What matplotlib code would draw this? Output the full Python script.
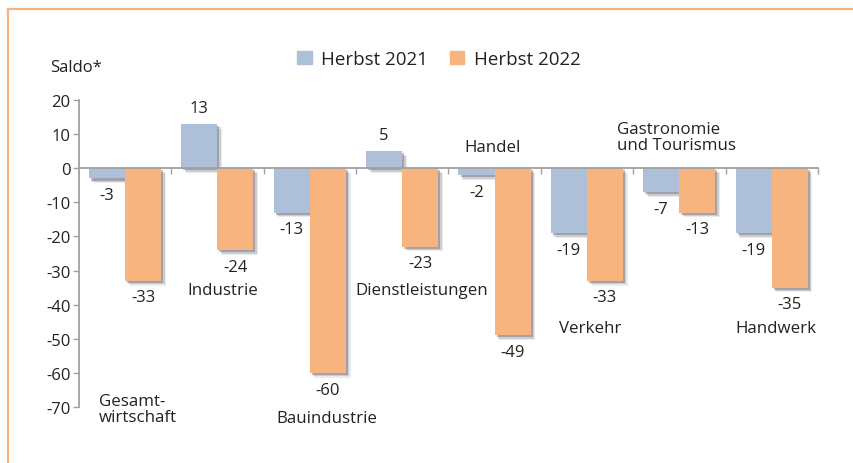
import numpy as np
import matplotlib
matplotlib.use("Agg")
import matplotlib.pyplot as plt
import matplotlib.patheffects as pe
from matplotlib.patches import Rectangle
from matplotlib.lines import Line2D

plt.rcParams['font.family'] = ['Open Sans', 'DejaVu Sans']

categories = ['Gesamt-\nwirtschaft', 'Industrie', 'Bauindustrie', 'Dienstleistungen',
              'Handel', 'Verkehr', 'Gastronomie\nund Tourismus', 'Handwerk']
herbst_2021 = [-3, 13, -13, 5, -2, -19, -7, -19]
herbst_2022 = [-33, -24, -60, -23, -49, -33, -13, -35]
series_names = ['Herbst 2021', 'Herbst 2022']
yticks = [20, 10, 0, -10, -20, -30, -40, -50, -60, -70]

# where the category names sit (x in category units, y in data units, alignment)
label_pos = [(0.215, -70.6, 'left'), (1.56, -35.8, 'center'), (2.68, -73.3, 'center'),
             (3.71, -35.8, 'center'), (4.48, 6.2, 'center'), (5.53, -46.9, 'center'),
             (5.82, 9.2, 'left'), (7.55, -46.9, 'center')]

blue = '#aebfda'
orange = '#f8b47e'
txt = '#222222'

fig = plt.figure(figsize=(8.54, 4.64), dpi=100)
ax = fig.add_axes([79/854, 1-408/464, 739/854, 307/464])

shadow = [pe.SimplePatchShadow(offset=(3.4, -3.4), shadow_rgbFace='#5e6270', alpha=0.12),
          pe.SimplePatchShadow(offset=(2.5, -2.5), shadow_rgbFace='#5e6270', alpha=0.22),
          pe.SimplePatchShadow(offset=(1.5, -1.5), shadow_rgbFace='#5e6270', alpha=0.4),
          pe.Normal()]

x = np.arange(len(categories))
w = 0.39
b1 = ax.bar(x + 0.303, herbst_2021, w, color=blue, path_effects=shadow, zorder=2)
b2 = ax.bar(x + 0.693, herbst_2022, w, color=orange, path_effects=shadow, zorder=2)

for bars in (b1, b2):
    for r in bars:
        v = r.get_height()
        s = str(int(v))
        off = 11.5 if v > 0 else -12
        ax.annotate(s, (r.get_x() + r.get_width()/2, v), xytext=(0, off),
                    textcoords='offset points', ha='center', va='center',
                    fontsize=12, color=txt)

for name, (px, py, ha) in zip(categories, label_pos):
    ax.text(px, py, name, ha=ha, va='center', fontsize=12.2, color=txt, linespacing=1.0)

ax.set_xlim(0, 8)
ax.set_ylim(-70, 20)
ax.set_yticks(yticks)
ax.set_yticklabels([str(t) for t in yticks])
ax.set_xticks(np.arange(1, 9))
ax.set_xticklabels([])

for s in ('top', 'right'):
    ax.spines[s].set_visible(False)
ax.spines['left'].set_color('#a0a0a0')
ax.spines['left'].set_linewidth(1.3)
ax.spines['bottom'].set_position(('data', 0))
ax.spines['bottom'].set_color('#a0a0a0')
ax.spines['bottom'].set_linewidth(1.3)
ax.spines['bottom'].set_zorder(3)
ax.tick_params(axis='y', length=4, width=1, color='#a0a0a0', pad=2, labelsize=12, labelcolor=txt)
ax.tick_params(axis='x', length=4, width=1, color='#a0a0a0', direction='out')

fig.text(50/854, 1-68/464, 'Saldo*', fontsize=12, color=txt, va='center', ha='left')

handles = [Rectangle((0, 0), 1, 1, color=blue), Rectangle((0, 0), 1, 1, color=orange)]
leg = fig.legend(handles, series_names, loc='center', bbox_to_anchor=(439/854, 1-60/464),
                 ncol=2, frameon=False, fontsize=13.5, handlelength=0.75, handleheight=0.75,
                 handletextpad=0.5, columnspacing=1.2, labelcolor=txt)

# orange frame (top and left only)
fig.add_artist(Line2D([8/854, 1], [1-9.5/464, 1-9.5/464], color='#f9b27c', lw=1.6))
fig.add_artist(Line2D([8/854, 8/854], [0, 1-9.5/464], color='#f9b27c', lw=1.6))

fig.savefig('out.png', dpi=100)
